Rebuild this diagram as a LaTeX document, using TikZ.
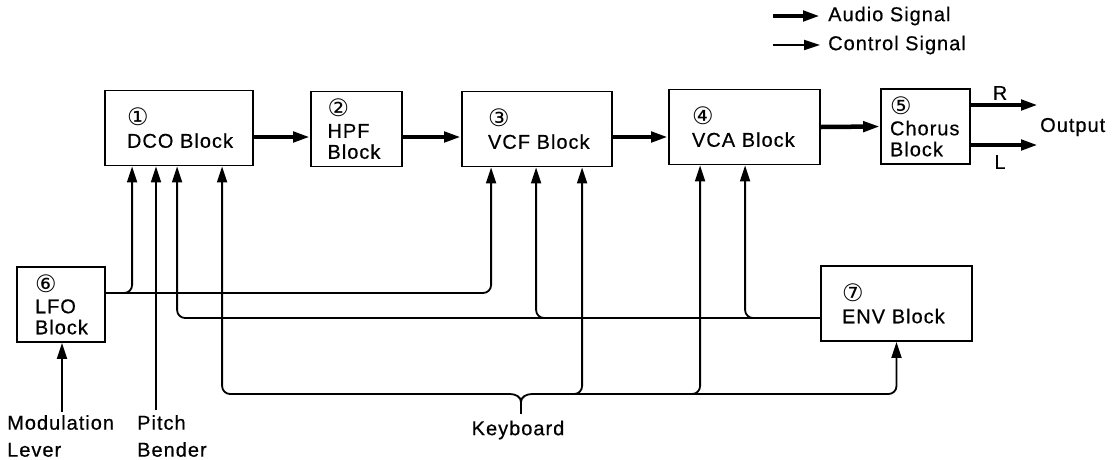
\documentclass[tikz,border=0pt]{standalone}
\usepackage{fontspec}
\setmainfont{Liberation Sans}[LetterSpace=5, FakeBold=0.5]
\newfontfamily\numfont{DejaVu Sans}
\usetikzlibrary{arrows.meta,positioning}

\newcommand{\cnum}[1]{{\numfont\fontsize{24}{22}\selectfont #1}}

\tikzset{
  blk/.style={draw, line width=1.8pt, minimum height=75pt, align=left, inner ysep=0pt},
  audio/.style={line width=4.5pt, -{Triangle[length=17pt,width=10pt]}},
  ctrl/.style={line width=1.8pt, rounded corners=8pt, -{Triangle[length=16pt,width=10pt]}},
  wire/.style={line width=1.8pt},
  lbl/.style={align=left, inner sep=0pt},
}

\begin{document}
\begin{tikzpicture}[x=1pt, y=-1pt, font=\fontsize{20}{21}\selectfont]
  \useasboundingbox (0,0) rectangle (1117,459);
  % blocks
  \node[blk, text width=104pt, inner xsep=22pt] (dco) at (179,128) {\cnum{①}\\[1pt]DCO~Block};
  \node[blk, text width=58pt, inner xsep=16.5pt] (hpf) at (356.5,129) {\cnum{②}\\HPF\\Block};
  \node[blk, text width=98pt, inner xsep=26pt] (vcf) at (537,129) {\cnum{③}\\[1pt]VCF~Block};
  \node[blk, text width=105pt, inner xsep=23pt] (vca) at (744.5,127) {\cnum{④}\\[1pt]VCA~Block};
  \node[blk, text width=71pt, inner xsep=9pt] (chorus) at (925.5,126.5) {\cnum{⑤}\\Chorus\\Block};
  \node[blk, text width=52pt, inner xsep=18pt] (lfo) at (61,304.5) {\cnum{⑥}\\LFO\\Block};
  \node[blk, text width=109pt, inner xsep=21pt] (env) at (896.5,303.5) {\cnum{⑦}\\[1pt]ENV~Block};

  % audio path
  \draw[audio] ([yshift=-9pt]dco.east) -- ([yshift=-8pt]hpf.west);
  \draw[audio] ([yshift=-8pt]hpf.east) -- ([yshift=-8pt]vcf.west);
  \draw[audio] ([yshift=-8pt]vcf.east) -- ([yshift=-10pt]vca.west);
  \draw[audio] (vca.east) -- (chorus.west);
  \coordinate (outr) at (1038,105);
  \coordinate (outl) at (1038,145);
  \draw[audio] ([yshift=21.5pt]chorus.east) -- (outr);
  \draw[audio] ([yshift=-18.5pt]chorus.east) -- (outl);
  \node (rlab) at (1000,93) {R};
  \node (llab) at (1000,162) {L};
  \node[anchor=west, inner sep=0pt] (output) at (1040,127) {Output};

  % legend
  \coordinate (aud0) at (773,16);
  \coordinate (aud1) at (820,16);
  \coordinate (ctl0) at (773,45);
  \coordinate (ctl1) at (820,45);
  \draw[audio] (aud0) -- (aud1);
  \draw[ctrl] (ctl0) -- (ctl1);
  \node[lbl, anchor=west] (audtxt) at (828,16) {Audio Signal};
  \node[lbl, anchor=west] (ctltxt) at (828,45) {Control Signal};

  % LFO
  \coordinate (lfoout) at ([yshift=11.5pt]lfo.east);
  \draw[ctrl] (lfoout) -| ([xshift=28pt]dco.south west);
  \draw[ctrl] (lfoout) -| ([xshift=30pt]vcf.south west);

  % ENV
  \coordinate (envout) at ([yshift=-14.5pt]env.west);
  \draw[ctrl] (envout) -| ([xshift=73pt]dco.south west);
  \draw[ctrl] (envout) -| ([xshift=75pt]vcf.south west);
  \draw[ctrl] (envout) -| ([xshift=77pt]vca.south west);

  % pitch bender, modulation lever
  \coordinate (pb) at (156,410);
  \coordinate (ml) at (62,412);
  \draw[ctrl] (pb) -- (pb |- dco.south);
  \draw[ctrl] (ml) -- (ml |- lfo.south);
  \node[lbl, anchor=west] (modtxt) at (7,436) {Modulation\\[6pt]Lever};
  \node[lbl, anchor=west] (pbtxt) at (137,436) {Pitch\\[6pt]Bender};

  % keyboard
  \coordinate (kb) at (521,402);
  \coordinate (kbl) at (510,394);
  \coordinate (kbr) at (532,394);
  \draw[wire] (kbl) to[out=0,in=90] (kb) to[out=90,in=180] (kbr);
  \draw[wire] (kb) -- ++(0,12);
  \draw[ctrl] (kbl) -| ([xshift=118pt]dco.south west);
  \draw[ctrl] (kbr) -| (env.south);
  \draw[ctrl] (kbr) -| ([xshift=121pt]vcf.south west);
  \draw[ctrl] (kbr) -| ([xshift=32pt]vca.south west);
  \node (kbtxt) at (518,430) {Keyboard};
\end{tikzpicture}
\end{document}
